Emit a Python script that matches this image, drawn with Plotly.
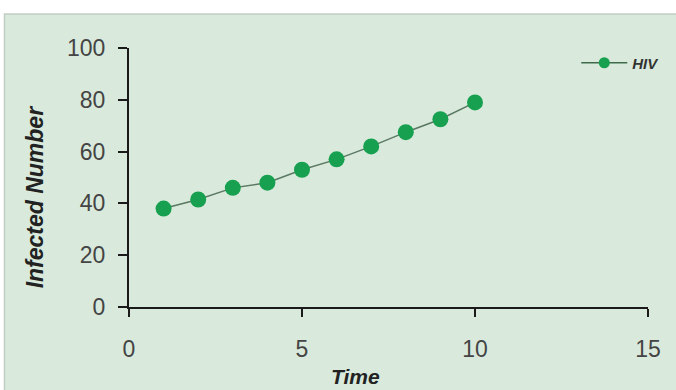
import plotly.graph_objects as go

time = [1, 2, 3, 4, 5, 6, 7, 8, 9, 10]
infected = [38, 41.5, 46, 48, 53, 57, 62, 67.5, 72.5, 79]
x_ticks = [0, 5, 10, 15]
y_ticks = [0, 20, 40, 60, 80, 100]
series_name = "HIV"
x_title = "Time"
y_title = "Infected Number"

W, H = 676, 390
L, R, T, B = 129, 26, 48, 83
pw, ph = W - L - R, H - T - B

def px(x):
    return (x - L) / pw

def py(y):
    return (H - B - y) / ph

BG = "#d9eadc"
GREEN = "#17a050"
LINE = "#5a7862"

fig = go.Figure()
fig.add_trace(go.Scatter(
    x=time, y=infected, name=series_name, mode="lines+markers",
    line=dict(color=LINE, width=1.5),
    marker=dict(color=GREEN, size=16, line=dict(width=0)),
    showlegend=False,
))
# legend entry (smaller marker, as in the reference legend)
fig.add_trace(go.Scatter(
    x=[None], y=[None], name="<b><i>" + series_name + "</i></b>", mode="lines+markers",
    line=dict(color="#3f6a4c", width=1.5),
    marker=dict(color=GREEN, size=11, line=dict(width=0)),
    showlegend=True,
))

fig.update_layout(
    width=W, height=H,
    margin=dict(l=L, r=R, t=T, b=B),
    paper_bgcolor="white",
    plot_bgcolor=BG,
    showlegend=True,
    legend=dict(x=px(578), y=py(63), xanchor="left", yanchor="middle",
                bgcolor="rgba(0,0,0,0)",
                font=dict(family="Liberation Sans", size=15, color="#333"),
                itemwidth=46),
    font=dict(family="Liberation Sans"),
    shapes=[dict(type="rect", xref="paper", yref="paper",
                 x0=px(4), x1=px(W + 5), y0=py(H + 5), y1=py(14),
                 fillcolor=BG, line=dict(color="#c2cdc4", width=1.5),
                 layer="below")],
    annotations=[
        dict(text="<b><i>" + x_title + "</i></b>", xref="paper", yref="paper",
             x=px(356), y=py(376), xanchor="center", yanchor="middle", showarrow=False,
             font=dict(family="Liberation Sans", size=21, color="#222")),
        dict(text="<b><i>" + y_title + "</i></b>", xref="paper", yref="paper",
             x=px(35), y=py(197), xanchor="center", yanchor="middle", showarrow=False,
             textangle=-90,
             font=dict(family="Liberation Sans", size=23, color="#222")),
    ],
    xaxis=dict(range=[0, 15], tickvals=x_ticks, showgrid=False, zeroline=False,
               showline=True, linecolor="#1a1a1a", linewidth=2,
               ticks="outside", ticklen=8, tickwidth=1.5, tickcolor="#1a1a1a",
               tickfont=dict(family="Liberation Sans", size=23, color="#444"),
               ticklabelstandoff=12),
    yaxis=dict(range=[0, 100], tickvals=y_ticks, showgrid=False, zeroline=False,
               showline=True, linecolor="#1a1a1a", linewidth=2,
               ticks="outside", ticklen=9, tickwidth=1.5, tickcolor="#1a1a1a",
               tickfont=dict(family="Liberation Sans", size=23, color="#444"),
               ticklabelstandoff=8),
)

fig.write_html("out.html")
